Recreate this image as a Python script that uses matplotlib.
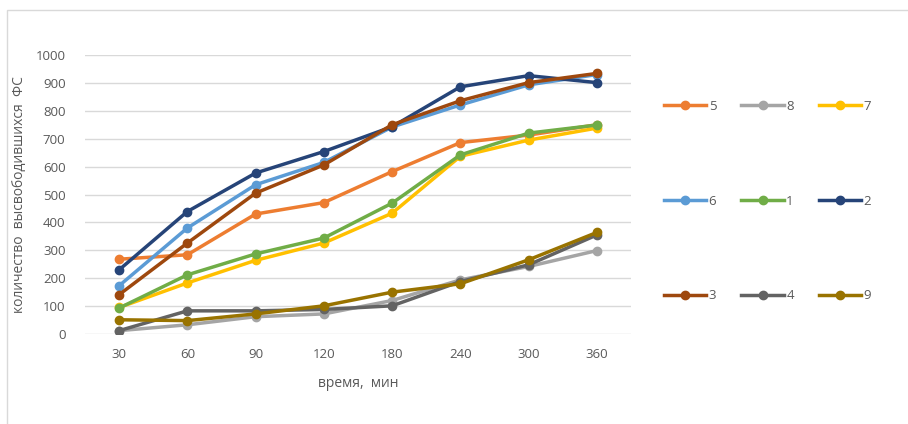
import matplotlib.pyplot as plt
from matplotlib.patches import Rectangle

plt.rcParams['font.family'] = ['Open Sans', 'DejaVu Sans']

times = ['30', '60', '90', '120', '180', '240', '300', '360']

s5 = [268, 284, 430, 471, 582, 686, 713, 750]
s8 = [12, 33, 62, 72, 120, 194, 242, 299]
s7 = [95, 183, 264, 326, 433, 637, 695, 738]
s6 = [173, 380, 535, 615, 742, 821, 893, 930]
s1 = [93, 212, 287, 344, 469, 642, 720, 749]
s2 = [230, 439, 577, 654, 743, 886, 926, 901]
s3 = [141, 326, 505, 606, 750, 836, 901, 934]
s4 = [12, 83, 83, 88, 101, 188, 248, 355]
s9 = [51, 48, 72, 101, 150, 180, 266, 364]

series = [('5', s5, '#ED7D31'), ('8', s8, '#A5A5A5'), ('7', s7, '#FFC000'),
          ('6', s6, '#5B9BD5'), ('1', s1, '#70AD47'), ('2', s2, '#264478'),
          ('3', s3, '#9E480E'), ('4', s4, '#636363'), ('9', s9, '#997300')]

W, H = 908, 424
fig = plt.figure(figsize=(W / 100, H / 100), dpi=100)
ax = fig.add_axes([85 / W, 1 - 334 / H, (631 - 85) / W, (334 - 55) / H])

# frame of the chart area
fig.patches.append(Rectangle((7 / W, -0.1), 1.2, 1 - 10 / H + 0.1, transform=fig.transFigure,
                             fill=False, edgecolor='#D9D9D9', linewidth=1))

x = list(range(len(times)))
lines = {}
for name, vals, col in series:
    ln, = ax.plot(x, vals, color=col, linewidth=2.5, marker='o', markersize=6, label=name)
    lines[name] = ln

ax.set_xlim(-0.5, len(times) - 0.5)
ax.set_ylim(0, 1000)
ax.set_yticks(range(0, 1001, 100))
ax.set_xticks(x)
ax.set_xticklabels(times)
ax.grid(axis='y', color='#D9D9D9', linewidth=1)
ax.set_axisbelow(True)
for sp in ax.spines.values():
    sp.set_visible(False)
ax.tick_params(length=0, colors='#595959', labelsize=9.5)
ax.tick_params(axis='x', pad=10)
ax.tick_params(axis='y', pad=14)

ax.set_xlabel('время,  мин', color='#595959', fontsize=10, labelpad=11)
ax.set_ylabel('количество  высвободившихся  ФС', color='#595959', fontsize=10, labelpad=6)

order = ['5', '6', '3', '8', '1', '4', '7', '2', '9']
leg = fig.legend([lines[k] for k in order], order, ncol=3, loc='upper left',
                 bbox_to_anchor=(652 / W, 1 - 88 / H), frameon=False, fontsize=9.5,
                 labelspacing=6.2, handlelength=3.2, handletextpad=0.2, columnspacing=1.9,
                 labelcolor='#595959')

fig.savefig('out.png', dpi=100)
